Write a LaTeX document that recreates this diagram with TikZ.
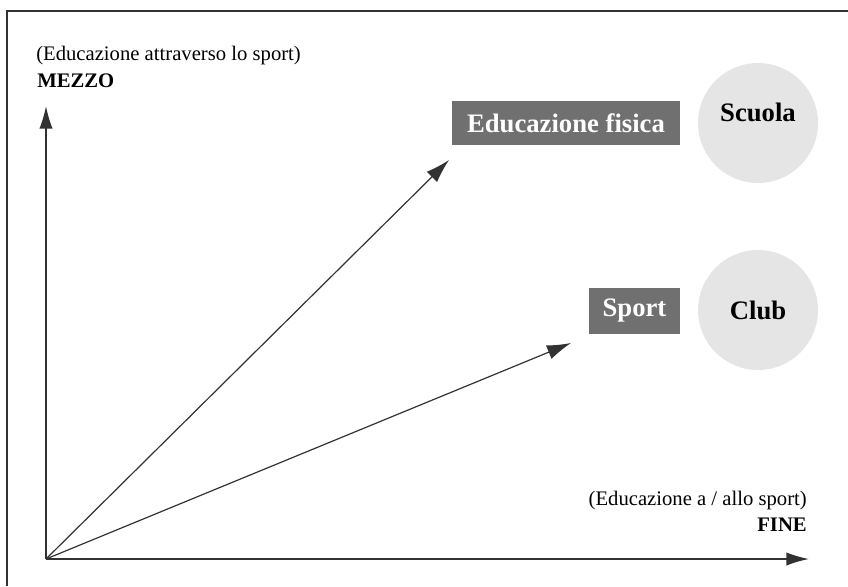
\documentclass[tikz,border=0pt]{standalone}
\usepackage{fontspec}
\setmainfont{Liberation Serif}
\usetikzlibrary{arrows.meta}
\definecolor{boxgray}{RGB}{112,112,112}
\definecolor{bubblegray}{RGB}{229,229,229}
\definecolor{linegray}{RGB}{50,50,50}
\tikzset{
  axis/.style={draw=linegray,line width=1.1pt,-{Latex[length=17pt,width=10pt]}},
  ray/.style={draw=linegray,line width=0.9pt,-{Latex[length=18pt,width=11pt]}},
  box/.style={rectangle,fill=boxgray,text=white,font=\fontsize{20}{22}\selectfont\bfseries,inner sep=0pt},
  bubble/.style={circle,fill=bubblegray,minimum size=90pt,inner sep=0pt,font=\fontsize{20}{22}\selectfont\bfseries},
  lbl/.style={inner sep=0pt,font=\fontsize{15.5}{17}\selectfont}
}
\begin{document}
\begin{tikzpicture}[x=0.75pt,y=-0.75pt]
  \useasboundingbox (0,0) rectangle (848,586);
  % frame
  \draw [line width=1pt,linegray](7,586) -- (7,11) -- (848,11);
  % axes
  \coordinate (O) at(46,559);
  \coordinate (ytip) at(46,106);
  \coordinate (xtip) at(809,559);
  \draw [axis](O) -- (ytip);
  \draw [axis](O) -- (xtip);
  % axis labels
  \node [lbl,anchor=base west] (mezzotxt) at(36,60){(Educazione attraverso lo sport)};
  \node [lbl,anchor=base west,font=\fontsize{15.5}{17}\selectfont\bfseries] (mezzo) at(37,87){MEZZO};
  \node [lbl,anchor=base east] (finetxt) at(807,505){(Educazione a / allo sport)};
  \node [lbl,anchor=base east,font=\fontsize{15.5}{17}\selectfont\bfseries] (fine) at(807,531){FINE};
  % boxes
  \node [box,minimum width=171pt,minimum height=33pt] (efis) at(566,123){Educazione fisica};
  \node [box,minimum width=68pt,minimum height=34pt] (sport) at(634.5,311){Sport};
  % bubbles
  \node [bubble] (scuola) at(758,123){};
  \node [bubble,fill=none] (scuolatxt) at(758,112){Scuola};
  \node [bubble] (club) at(758,310){Club};
  % rays
  \coordinate (t1) at(449,160);
  \coordinate (t2) at(571,343);
  \draw [ray](O) -- (t1);
  \draw [ray](O) -- (t2);
\end{tikzpicture}
\end{document}
